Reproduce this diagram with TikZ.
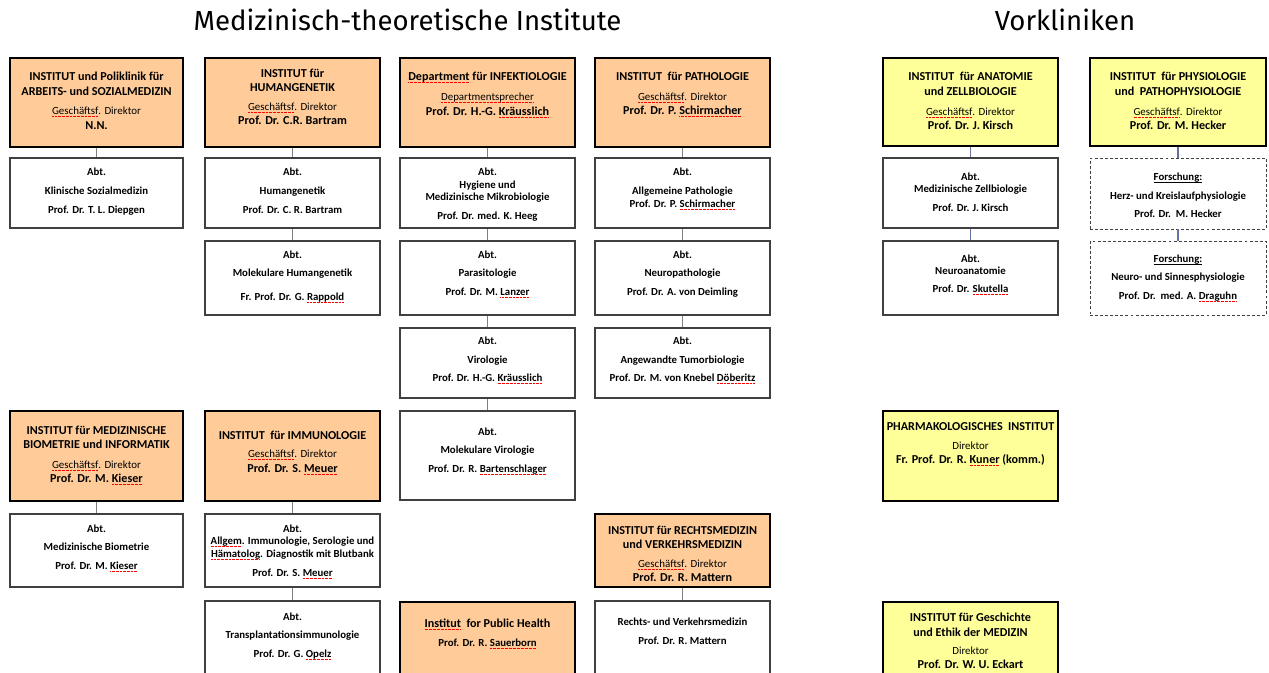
\documentclass[tikz,border=0pt]{standalone}
\usepackage{fontspec}
\setmainfont{Carlito}
\newfontfamily\titlefont{Fira Sans}
\definecolor{orfill}{HTML}{FFCC99}
\definecolor{yefill}{HTML}{FFFF99}
\definecolor{wline}{HTML}{404040}
\definecolor{cline}{HTML}{808080}
\definecolor{bline}{HTML}{6670A0}
\newsavebox\sqbx
\newcommand\sq[1]{\sbox\sqbx{#1}\rlap{\usebox\sqbx}\raisebox{-1.6pt}{\textcolor{red}{\hbox to \wd\sqbx{\xleaders\hbox{\rule{0.5pt}{0.4pt}\kern0.5pt}\hfill}}}}
\newcommand\ulin[1]{\sbox\sqbx{#1}\rlap{\usebox\sqbx}\raisebox{-1.5pt}{\rule{\wd\sqbx}{0.45pt}}}
\newcommand\bx[6]{\node[#2, minimum width={(#5-#3)*0.75pt}, minimum height={(#6-#4)*0.75pt}] (#1) at ({(#3+#5)/2},{(#4+#6)/2}) {};}
\newcommand\tl[5]{\node[#4] (#1) at (#2,#3) {#5};}
\tikzset{
  obox/.style={rectangle, inner sep=0pt, fill=orfill, draw=black, line width=2.2pt},
  ybox/.style={rectangle, inner sep=0pt, fill=yefill, draw=black, line width=2.2pt},
  wbox/.style={rectangle, inner sep=0pt, fill=white, draw=wline, line width=0.9pt},
  dbox/.style={rectangle, inner sep=0pt, fill=white, draw=wline, line width=0.7pt, dash pattern=on 2.2pt off 1.6pt},
  conn/.style={draw=cline, line width=1pt},
  bconn/.style={draw=bline, line width=1pt},
  hd/.style={anchor=base, inner sep=0pt, font=\bfseries\fontsize{9.1}{10}\selectfont},
  sub/.style={anchor=base, inner sep=0pt, font=\fontsize{8.2}{9}\selectfont},
  sm/.style={anchor=base, inner sep=0pt, font=\bfseries\fontsize{8.1}{9}\selectfont},
  ttl/.style={anchor=base, inner sep=0pt, font=\titlefont\fontsize{20.7}{22}\selectfont},
}
\begin{document}
\begin{tikzpicture}[x=0.75pt,y=-0.75pt]
\useasboundingbox (0,0) rectangle (1269,672);
\clip (0,0) rectangle (1269,672);
% titles
\node[ttl] (t1) at (407.5,30) {Medizinisch-theoretische Institute};
\node[ttl] (t2) at (1065,30) {Vorkliniken};
% ---------- boxes ----------
% column 1
\bx{a1}{obox}{10}{58}{183}{147}
\bx{b1}{wbox}{10}{158}{183}{228}
\bx{e1}{obox}{10}{411}{183}{501}
\bx{f1}{wbox}{10}{514}{183}{587}
% column 2
\bx{a2}{obox}{205}{58}{380}{147}
\bx{b2}{wbox}{205}{158}{380}{228}
\bx{c2}{wbox}{205}{241}{380}{315}
\bx{e2}{obox}{205}{411}{380}{501}
\bx{f2}{wbox}{205}{514}{380}{587}
\bx{g2}{wbox}{205}{601}{380}{690}
% column 3
\bx{a3}{obox}{400}{58}{575}{147}
\bx{b3}{wbox}{400}{158}{575}{228}
\bx{c3}{wbox}{400}{241}{575}{315}
\bx{d3}{wbox}{400}{328}{575}{398}
\bx{e3}{wbox}{400}{411}{575}{500}
\bx{g3}{obox}{400}{602}{575}{690}
% column 4
\bx{a4}{obox}{595}{58}{770}{147}
\bx{b4}{wbox}{595}{158}{770}{228}
\bx{c4}{wbox}{595}{241}{770}{315}
\bx{d4}{wbox}{595}{328}{770}{398}
\bx{f4}{obox}{595}{514}{770}{587}
\bx{g4}{wbox}{595}{601}{770}{690}
% column 5
\bx{a5}{ybox}{883}{58}{1058}{146}
\bx{b5}{wbox}{883}{158}{1058}{228}
\bx{c5}{wbox}{883}{241}{1058}{315}
\bx{e5}{ybox}{883}{411}{1058}{501}
\bx{g5}{ybox}{883}{602}{1058}{690}
% column 6
\bx{a6}{ybox}{1090}{58}{1266}{146}
\bx{b6}{dbox}{1090}{158}{1266}{229}
\bx{c6}{dbox}{1090}{241}{1266}{315}
% ---------- connectors ----------
\draw[conn] (a1.south) -- (b1.north);
\draw[conn] (e1.south) -- (f1.north);
\draw[conn] (a2.south) -- (b2.north);
\draw[conn] (b2.south) -- (c2.north);
\draw[conn] (e2.south) -- (f2.north);
\draw[conn] (f2.south) -- (g2.north);
\draw[conn] (a3.south) -- (b3.north);
\draw[conn] (b3.south) -- (c3.north);
\draw[conn] (c3.south) -- (d3.north);
\draw[conn] (d3.south) -- (e3.north);
\draw[conn] (a4.south) -- (b4.north);
\draw[conn] (b4.south) -- (c4.north);
\draw[conn] (c4.south) -- (d4.north);
\draw[conn] (f4.south) -- (g4.north);
\draw[bconn] (a5.south) -- (b5.north);
\draw[bconn] (b5.south) -- (c5.north);
\draw[bconn] (a6.south) -- (b6.north);
\draw[bconn] (b6.south) -- (c6.north);
% ---------- texts ----------
% A1
\tl{a1t1}{96.5}{80.5}{hd}{INSTITUT und Poliklinik für}
\tl{a1t2}{96.5}{95.5}{hd}{ARBEITS- und SOZIALMEDIZIN}
\tl{a1t3}{96.5}{114.5}{sub}{\sq{Geschäftsf}. Direktor}
\tl{a1t4}{96.5}{129.5}{hd}{N.N.}
% B1
\tl{b1t1}{96.5}{175.5}{sm}{Abt.}
\tl{b1t2}{96.5}{194.5}{sm}{Klinische Sozialmedizin}
\tl{b1t3}{96.5}{213.5}{sm}{Prof. Dr. T. L. Diepgen}
% A2
\tl{a2t1}{292.5}{77.5}{hd}{INSTITUT für}
\tl{a2t2}{292.5}{91.5}{hd}{HUMANGENETIK}
\tl{a2t3}{292.5}{110.5}{sub}{\sq{Geschäftsf}. Direktor}
\tl{a2t4}{292.5}{124.5}{hd}{Prof. Dr. C.R. Bartram}
% B2
\tl{b2t1}{292.5}{175.5}{sm}{Abt.}
\tl{b2t2}{292.5}{194.5}{sm}{Humangenetik}
\tl{b2t3}{292.5}{213.5}{sm}{Prof. Dr. C. R. Bartram}
% C2
\tl{c2t1}{292.5}{258.5}{sm}{Abt.}
\tl{c2t2}{292.5}{276.5}{sm}{Molekulare Humangenetik}
\tl{c2t3}{292.5}{300.5}{sm}{Fr. Prof. Dr. G. \sq{Rappold}}
% A3
\tl{a3t1}{487.5}{80.5}{hd}{\sq{Department} für INFEKTIOLOGIE}
\tl{a3t2}{487.5}{100.5}{sub}{\sq{Departmentsprecher}}
\tl{a3t3}{487.5}{115.5}{hd}{Prof. Dr. H.-G. \sq{Kräusslich}}
% B3
\tl{b3t1}{487.5}{175.5}{sm}{Abt.}
\tl{b3t2}{487.5}{188.5}{sm}{Hygiene und}
\tl{b3t3}{487.5}{200.5}{sm}{Medizinische Mikrobiologie}
\tl{b3t4}{487.5}{219.5}{sm}{Prof. Dr. med. K. Heeg}
% C3
\tl{c3t1}{487.5}{258.5}{sm}{Abt.}
\tl{c3t2}{487.5}{276.5}{sm}{Parasitologie}
\tl{c3t3}{487.5}{295.5}{sm}{Prof. Dr. M. \sq{Lanzer}}
% D3
\tl{d3t1}{487.5}{344.5}{sm}{Abt.}
\tl{d3t2}{487.5}{363.5}{sm}{Virologie}
\tl{d3t3}{487.5}{381.5}{sm}{Prof. Dr. H.-G. \sq{Kräusslich}}
% E3
\tl{e3t1}{487.5}{435.5}{sm}{Abt.}
\tl{e3t2}{487.5}{453.5}{sm}{Molekulare Virologie}
\tl{e3t3}{487.5}{472.5}{sm}{Prof. Dr. R. \sq{Bartenschlager}}
% A4
\tl{a4t1}{682.5}{80.5}{hd}{INSTITUT\ \ für PATHOLOGIE}
\tl{a4t2}{682.5}{100.5}{sub}{\sq{Geschäftsf}. Direktor}
\tl{a4t3}{682.5}{114.5}{hd}{Prof. Dr. P. \sq{Schirmacher}}
% B4
\tl{b4t1}{682.5}{175.5}{sm}{Abt.}
\tl{b4t2}{682.5}{194.5}{sm}{Allgemeine Pathologie}
\tl{b4t3}{682.5}{207.5}{sm}{Prof. Dr. P. \sq{Schirmacher}}
% C4
\tl{c4t1}{682.5}{258.5}{sm}{Abt.}
\tl{c4t2}{682.5}{276.5}{sm}{Neuropathologie}
\tl{c4t3}{682.5}{295.5}{sm}{Prof. Dr. A. von Deimling}
% D4
\tl{d4t1}{682.5}{344.5}{sm}{Abt.}
\tl{d4t2}{682.5}{363.5}{sm}{Angewandte Tumorbiologie}
\tl{d4t3}{682.5}{381.5}{sm}{Prof. Dr. M. von Knebel \sq{Döberitz}}
% A5
\tl{a5t1}{970.5}{80.5}{hd}{INSTITUT\ \ für ANATOMIE}
\tl{a5t2}{970.5}{95.5}{hd}{und ZELLBIOLOGIE}
\tl{a5t3}{970.5}{115.5}{sub}{\sq{Geschäftsf}. Direktor}
\tl{a5t4}{970.5}{129.5}{hd}{Prof. Dr. J. Kirsch}
% B5
\tl{b5t1}{970.5}{180.5}{sm}{Abt.}
\tl{b5t2}{970.5}{192.5}{sm}{Medizinische Zellbiologie}
\tl{b5t3}{970.5}{211.5}{sm}{Prof. Dr. J. Kirsch}
% C5
\tl{c5t1}{970.5}{262.5}{sm}{Abt.}
\tl{c5t2}{970.5}{274.5}{sm}{Neuroanatomie}
\tl{c5t3}{970.5}{292.5}{sm}{Prof. Dr. \sq{Skutella}}
% A6
\tl{a6t1}{1178}{80.5}{hd}{INSTITUT\ \ für PHYSIOLOGIE}
\tl{a6t2}{1178}{95.5}{hd}{und\ \ PATHOPHYSIOLOGIE}
\tl{a6t3}{1178}{115.5}{sub}{\sq{Geschäftsf}. Direktor}
\tl{a6t4}{1178}{129.5}{hd}{Prof. Dr. M. Hecker}
% B6
\tl{b6t1}{1178}{180.5}{sm}{\ulin{Forschung:}}
\tl{b6t2}{1178}{199.5}{sm}{Herz- und Kreislaufphysiologie}
\tl{b6t3}{1178}{217.5}{sm}{Prof. Dr.\ \ M. Hecker}
% C6
\tl{c6t1}{1178}{262.5}{sm}{\ulin{Forschung:}}
\tl{c6t2}{1178}{280.5}{sm}{Neuro- und Sinnesphysiologie}
\tl{c6t3}{1178}{299.5}{sm}{Prof. Dr.\ \ med. A. \sq{Draguhn}}
% E5 Pharmakologie
\tl{e5t1}{970.5}{430.5}{hd}{PHARMAKOLOGISCHES\ \ INSTITUT}
\tl{e5t2}{970.5}{449.5}{sub}{Direktor}
\tl{e5t3}{970.5}{463.5}{hd}{Fr. Prof. Dr. R. \sq{Kuner} (komm.)}
% G5 Geschichte
\tl{g5t1}{970.5}{621.5}{hd}{INSTITUT für Geschichte}
\tl{g5t2}{970.5}{636.5}{hd}{und Ethik der MEDIZIN}
\tl{g5t3}{970.5}{654.5}{sub}{Direktor}
\tl{g5t4}{970.5}{668.5}{hd}{Prof. Dr. W. U. Eckart}
% E1
\tl{e1t1}{96.5}{434.5}{hd}{INSTITUT für MEDIZINISCHE}
\tl{e1t2}{96.5}{448.5}{hd}{BIOMETRIE und INFORMATIK}
\tl{e1t3}{96.5}{468.5}{sub}{\sq{Geschäftsf}. Direktor}
\tl{e1t4}{96.5}{482.5}{hd}{Prof. Dr. M. \sq{Kieser}}
% F1
\tl{f1t1}{96.5}{532.5}{sm}{Abt.}
\tl{f1t2}{96.5}{550.5}{sm}{Medizinische Biometrie}
\tl{f1t3}{96.5}{569.5}{sm}{Prof. Dr. M. \sq{Kieser}}
% E2
\tl{e2t1}{292.5}{439.5}{hd}{INSTITUT\ \ für IMMUNOLOGIE}
\tl{e2t2}{292.5}{457.5}{sub}{\sq{Geschäftsf}. Direktor}
\tl{e2t3}{292.5}{472.5}{hd}{Prof. Dr. S. \sq{Meuer}}
% F2
\tl{f2t1}{292.5}{532.5}{sm}{Abt.}
\tl{f2t2}{292.5}{544.5}{sm}{\sq{Allgem}. Immunologie, Serologie und}
\tl{f2t3}{292.5}{557.5}{sm}{\sq{Hämatolog}. Diagnostik mit Blutbank}
\tl{f2t4}{292.5}{576.5}{sm}{Prof. Dr. S. \sq{Meuer}}
% G2
\tl{g2t1}{292.5}{620.5}{sm}{Abt.}
\tl{g2t2}{292.5}{638.5}{sm}{Transplantationsimmunologie}
\tl{g2t3}{292.5}{657.5}{sm}{Prof. Dr. G. \sq{Opelz}}
% G3 Public Health
\tl{g3t1}{487.5}{627.5}{hd}{\sq{Institut}\ \ for Public Health}
\tl{g3t2}{487.5}{646.5}{sm}{Prof. Dr. R. \sq{Sauerborn}}
% F4
\tl{f4t1}{682.5}{534.5}{hd}{INSTITUT für RECHTSMEDIZIN}
\tl{f4t2}{682.5}{548.5}{hd}{und VERKEHRSMEDIZIN}
\tl{f4t3}{682.5}{567.5}{sub}{\sq{Geschäftsf}. Direktor}
\tl{f4t4}{682.5}{581.5}{hd}{Prof. Dr. R. Mattern}
% G4
\tl{g4t1}{682.5}{625.5}{sm}{Rechts- und Verkehrsmedizin}
\tl{g4t2}{682.5}{644.5}{sm}{Prof. Dr. R. Mattern}
\end{tikzpicture}
\end{document}
